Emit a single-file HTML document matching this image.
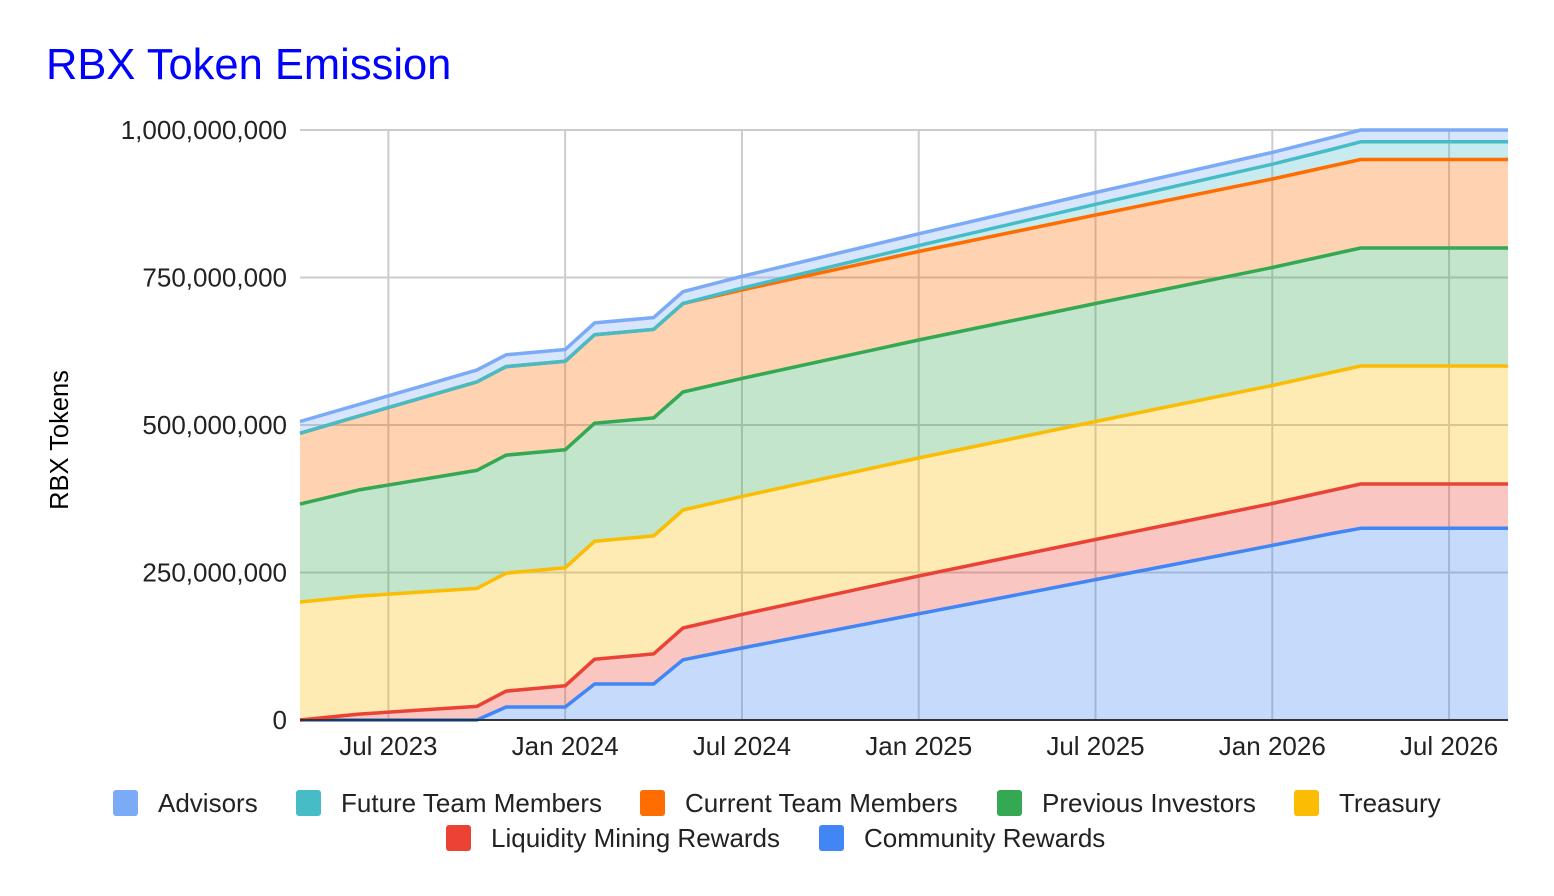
<!DOCTYPE html>
<html><head><meta charset="utf-8">
<style>
html,body{margin:0;padding:0;background:#fff;}
svg{display:block;font-family:"Liberation Sans",Arial,sans-serif;}
</style></head>
<body>
<svg id="chart" width="1554" height="896" viewBox="0 0 1554 896" xmlns="http://www.w3.org/2000/svg">
<text x="46" y="79" font-size="43.5" fill="#0000ff">RBX Token Emission</text>
<text transform="translate(68,440) rotate(-90)" text-anchor="middle" font-size="25.5" fill="#000">RBX Tokens</text>
<g id="grid"></g>
<g id="areas"></g>
<g id="axes"></g>
<g id="legend"></g>
</svg>
<script>
// month index from Apr 2023 = 0
const months = [0, 2, 6, 7, 9, 10, 12, 13, 15, 21, 27, 33, 35, 36, 41];
const community = [0, 0, 0, 22, 22, 61, 61, 102, 122, 180, 238, 296, 316, 325, 325];
const liquidity = [0, 10, 23, 27, 36, 42, 51, 54, 57, 64, 68, 71, 73, 75, 75];
const treasury = [200, 200, 200, 200, 200, 200, 200, 200, 200, 200, 200, 200, 200, 200, 200];
const investors = [166, 180, 200, 200, 200, 200, 200, 200, 200, 200, 200, 200, 200, 200, 200];
const currentTeam = [120, 125, 150, 150, 150, 150, 150, 150, 150, 150, 150, 150, 150, 150, 150];
const futureTeam = [0, 0, 0, 0, 0, 0, 0, 0, 3, 10, 18, 25, 28, 30, 30];
const advisors = [20, 20, 20, 20, 20, 20, 20, 20, 20, 20, 20, 20, 20, 20, 20];
const yTicks = [0, 250, 500, 750, 1000];
const yTickLabels = ["0", "250,000,000", "500,000,000", "750,000,000", "1,000,000,000"];
const xTicks = [3, 9, 15, 21, 27, 33, 39];
const xTickLabels = ["Jul 2023", "Jan 2024", "Jul 2024", "Jan 2025", "Jul 2025", "Jan 2026", "Jul 2026"];

const X0 = 300, X1 = 1508, Y0 = 720, Y1 = 130;
const xs = m => X0 + m * (X1 - X0) / 41;
const ys = v => Y0 - v * (Y0 - Y1) / 1000;
const NS = "http://www.w3.org/2000/svg";
function mk(tag, attrs, parent) {
  const e = document.createElementNS(NS, tag);
  for (const k in attrs) e.setAttribute(k, attrs[k]);
  parent.appendChild(e);
  return e;
}
const grid = document.getElementById('grid');
const axes = document.getElementById('axes');
yTicks.forEach((t, i) => {
  const l = mk('line', {x1: X0, x2: X1, y1: ys(t), y2: ys(t), stroke: '#cccccc', 'stroke-width': 2}, grid);
  
  
  const tx = mk('text', {x: 287, y: ys(t) + 9, 'text-anchor': 'end', 'font-size': 26, fill: '#222'}, axes);
  tx.textContent = yTickLabels[i];
  
  
});
xTicks.forEach((t, i) => {
  const l = mk('line', {x1: xs(t), x2: xs(t), y1: Y1, y2: Y0, stroke: '#cccccc', 'stroke-width': 2}, grid);
  
  
  const tx = mk('text', {x: xs(t), y: 755, 'text-anchor': 'middle', 'font-size': 26, fill: '#222'}, axes);
  tx.textContent = xTickLabels[i];
  
  
});

const series = [
  {name: 'Community Rewards', key: 'community-rewards', d: community, c: '#4285f4'},
  {name: 'Liquidity Mining Rewards', key: 'liquidity-mining-rewards', d: liquidity, c: '#ea4335'},
  {name: 'Treasury', key: 'treasury', d: treasury, c: '#fbbc04'},
  {name: 'Previous Investors', key: 'previous-investors', d: investors, c: '#34a853'},
  {name: 'Current Team Members', key: 'current-team-members', d: currentTeam, c: '#ff6d01'},
  {name: 'Future Team Members', key: 'future-team-members', d: futureTeam, c: '#46bdc6'},
  {name: 'Advisors', key: 'advisors', d: advisors, c: '#7baaf7'}
];
const areas = document.getElementById('areas');
let base = months.map(() => 0);
const lines = [];
series.forEach(s => {
  const top = base.map((b, i) => b + s.d[i]);
  const up = months.map((m, i) => xs(m).toFixed(1) + ',' + ys(top[i]).toFixed(1));
  const dn = months.map((m, i) => xs(m).toFixed(1) + ',' + ys(base[i]).toFixed(1)).reverse();
  const a = mk('polygon', {points: up.concat(dn).join(' '), fill: s.c, 'fill-opacity': 0.3}, areas);
  
  
  lines.push({pts: up.join(' '), c: s.c, key: s.key});
  base = top;
});
lines.forEach(l => {
  const p = mk('polyline', {points: l.pts, fill: 'none', stroke: l.c, 'stroke-width': 3.5, 'stroke-linejoin': 'round'}, areas);
  
  
});
const bl = mk('line', {x1: X0, x2: X1, y1: Y0, y2: Y0, stroke: '#333', 'stroke-width': 2}, axes);



const legendItems = [
  ['Advisors', '#7baaf7', 113, 790], ['Future Team Members', '#46bdc6', 296, 790],
  ['Current Team Members', '#ff6d01', 640, 790], ['Previous Investors', '#34a853', 997, 790],
  ['Treasury', '#fbbc04', 1294, 790], ['Liquidity Mining Rewards', '#ea4335', 446, 825],
  ['Community Rewards', '#4285f4', 819, 825]
];
const lg = document.getElementById('legend');
legendItems.forEach(it => {
  const g = mk('g', {}, lg);
  
  
  mk('rect', {x: it[2], y: it[3], width: 25, height: 26, rx: 3, fill: it[1]}, g);
  const t = mk('text', {x: it[2] + 45, y: it[3] + 22, 'font-size': 26, fill: '#222'}, g);
  t.textContent = it[0];
});
</script>
</body></html>
